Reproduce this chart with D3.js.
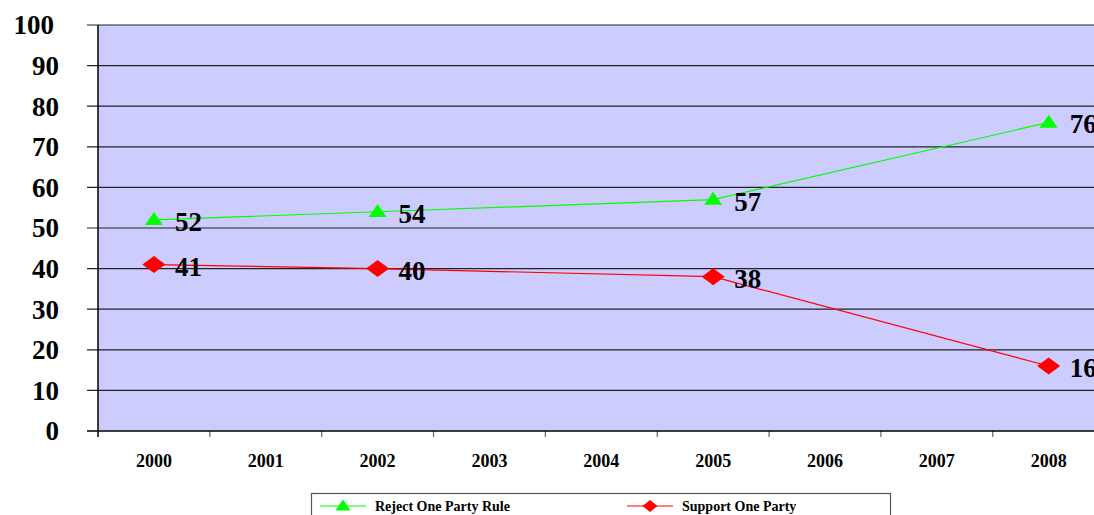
<!DOCTYPE html>
<html>
<head>
<meta charset="utf-8">
<script src="https://cdn.jsdelivr.net/npm/d3@7"></script>
<style>
  html, body { margin: 0; padding: 0; background: #fff; }
  svg { display: block; font-family: "Liberation Serif", "Times New Roman", serif; font-weight: bold; }
</style>
</head>
<body>
<svg id="chart" width="1094" height="515"></svg>
<script>
// Survey results by year
const years = ["2000", "2001", "2002", "2003", "2004", "2005", "2006", "2007", "2008"];
const surveyYears = ["2000", "2002", "2005", "2008"];
const rejectValues = [52, 54, 57, 76];
const supportValues = [41, 40, 38, 16];
const yTicks = [0, 10, 20, 30, 40, 50, 60, 70, 80, 90, 100];
const seriesNames = ["Reject One Party Rule", "Support One Party"];
const seriesColors = ["#00ff00", "#ff0000"];

const svg = d3.select("#chart");
const plot = { left: 98, top: 25, right: 1104.6, bottom: 431 };

const x = d3.scaleBand().domain(years).range([plot.left, plot.right]);
const y = d3.scaleLinear().domain([0, 100]).range([plot.bottom, plot.top]);

// marker shapes drawn with a given width / height
const triangle = (w, h) => {
  const p = d3.path();
  p.moveTo(0, -h * 0.6); p.lineTo(w / 2, h * 0.4); p.lineTo(-w / 2, h * 0.4); p.closePath();
  return p.toString();
};
const diamond = (w, h) => {
  const p = d3.path();
  p.moveTo(0, -h / 2); p.lineTo(w / 2, 0); p.lineTo(0, h / 2); p.lineTo(-w / 2, 0); p.closePath();
  return p.toString();
};

// plot background
svg.append("rect")
  .attr("x", plot.left).attr("y", plot.top)
  .attr("width", plot.right - plot.left).attr("height", plot.bottom - plot.top)
  .attr("fill", "#ccccff");

// horizontal gridlines with left tick stubs
svg.append("g").selectAll("line").data(yTicks.filter(d => d > 0)).join("line")
  .attr("x1", 87).attr("x2", plot.right)
  .attr("y1", d => y(d)).attr("y2", d => y(d))
  .attr("stroke", "#222").attr("stroke-width", 1.2);

// y axis labels
svg.append("g").selectAll("text").data(yTicks).join("text")
  .attr("x", d => d === 100 ? 54 : 59).attr("y", d => y(d)).attr("dy", "0.35em")
  .attr("text-anchor", "end")
  .attr("font-size", 27)
  .attr("fill", "#000")
  .text(d => d);

// x axis ticks at band edges
const edges = years.map(d => x(d)).concat([plot.right]);
svg.append("g").selectAll("line").data(edges.slice(1)).join("line")
  .attr("x1", d => d).attr("x2", d => d)
  .attr("y1", plot.bottom).attr("y2", plot.bottom + 6)
  .attr("stroke", "#666").attr("stroke-width", 1.2);

// axis lines
svg.append("line")
  .attr("x1", plot.left).attr("x2", plot.left)
  .attr("y1", plot.top).attr("y2", plot.bottom + 6)
  .attr("stroke", "#000").attr("stroke-width", 1.5);
svg.append("line")
  .attr("x1", 87).attr("x2", plot.right)
  .attr("y1", plot.bottom).attr("y2", plot.bottom)
  .attr("stroke", "#000").attr("stroke-width", 1.5);

// x axis labels
svg.append("g").selectAll("text").data(years).join("text")
  .attr("x", d => x(d) + x.bandwidth() / 2).attr("y", 467)
  .attr("text-anchor", "middle")
  .attr("font-size", 18)
  .attr("fill", "#000")
  .text(d => d);

const cx = d => x(d) + x.bandwidth() / 2;
const series = [
  { name: seriesNames[0], values: rejectValues, color: seriesColors[0], shape: triangle, w: 18, h: 13, lw: 15, lh: 11 },
  { name: seriesNames[1], values: supportValues, color: seriesColors[1], shape: diamond, w: 23, h: 17, lw: 15, lh: 12 }
];

const line = d3.line().x(d => cx(d.year)).y(d => y(d.value));

series.forEach(s => {
  const pts = surveyYears.map((yr, i) => ({ year: yr, value: s.values[i] }));
  const g = svg.append("g");
  g.append("path").datum(pts)
    .attr("d", line).attr("fill", "none")
    .attr("stroke", s.color).attr("stroke-width", 1.2);
  g.selectAll("path.m").data(pts).join("path").attr("class", "m")
    .attr("transform", d => `translate(${cx(d.year)},${y(d.value)})`)
    .attr("d", s.shape(s.w, s.h))
    .attr("fill", s.color);
  g.selectAll("text").data(pts).join("text")
    .attr("x", d => cx(d.year) + 21).attr("y", d => y(d.value) + 11)
    .attr("font-size", 27)
    .attr("fill", "#000")
    .text(d => d.value);
});

// legend
const legend = svg.append("g");
legend.append("rect")
  .attr("x", 311.5).attr("y", 493.5).attr("width", 579).attr("height", 40)
  .attr("fill", "#fff").attr("stroke", "#555").attr("stroke-width", 1.2);
const legendX = [320, 627];
series.forEach((s, i) => {
  const lx = legendX[i];
  legend.append("line")
    .attr("x1", lx).attr("x2", lx + 46).attr("y1", 506).attr("y2", 506)
    .attr("stroke", s.color).attr("stroke-width", 1.2);
  legend.append("path")
    .attr("transform", `translate(${lx + 23},506)`)
    .attr("d", s.shape(s.lw, s.lh))
    .attr("fill", s.color);
  legend.append("text")
    .attr("x", lx + 55).attr("y", 511)
    .attr("font-size", 14)
    .attr("fill", "#000")
    .text(s.name);
});
</script>
</body>
</html>
